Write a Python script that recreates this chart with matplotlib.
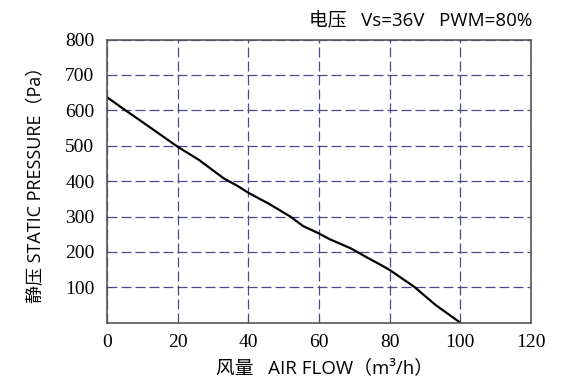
import matplotlib
matplotlib.use("Agg")
import matplotlib.pyplot as plt

flow = [0, 4.5, 10, 20, 26, 33, 37, 40, 46, 52, 55.5, 60, 63, 69, 74, 77, 80, 87, 93, 100]
pressure = [637, 605, 567, 497, 460, 408, 386, 367, 335, 299, 273, 252, 236, 210, 182, 166, 149, 101, 50, 0]
xticks = [0, 20, 40, 60, 80, 100, 120]
yticks = [100, 200, 300, 400, 500, 600, 700, 800]
title = "电压   Vs=36V   PWM=80%"
xlabel = "风量   AIR FLOW（m³/h）"
ylabel = "静压 STATIC PRESSURE（Pa）"

sans = ['Open Sans', 'Noto Sans CJK SC', 'DejaVu Sans']
serif = ['Liberation Serif', 'DejaVu Serif']

fig = plt.figure(figsize=(5.8, 3.9), dpi=100)
ax = fig.add_axes([107 / 580, 1 - 322.7 / 390, (531 - 107) / 580, (322.7 - 39.5) / 390])

ax.plot(flow, pressure, color='black', lw=1.6, solid_capstyle='round')
ax.set_xlim(0, 120)
ax.set_ylim(0, 800)
ax.set_xticks(xticks)
ax.set_yticks(yticks)
ax.set_xticklabels([str(v) for v in xticks], family=serif, fontsize=14)
ax.set_yticklabels([str(v) for v in yticks], family=serif, fontsize=14)
ax.tick_params(axis='x', length=0, pad=8)
ax.tick_params(axis='y', length=0, pad=9)
ax.grid(True, color='#4a4a88', ls=(0, (8, 3.2)), lw=0.9)
for s in ax.spines.values():
    s.set_color('#555555')
    s.set_linewidth(1.2)

fig.text(532 / 580, 1 - 21.5 / 390, title, ha='right', va='center', family=sans, fontsize=13.5)
fig.text(324 / 580, 1 - 368 / 390, xlabel, ha='center', va='center', family=sans, fontsize=13.5)
fig.text(36 / 580, 1 - 180 / 390, ylabel, ha='center', va='center', rotation=90, family=sans, fontsize=13)

fig.savefig('out.png', dpi=100)
